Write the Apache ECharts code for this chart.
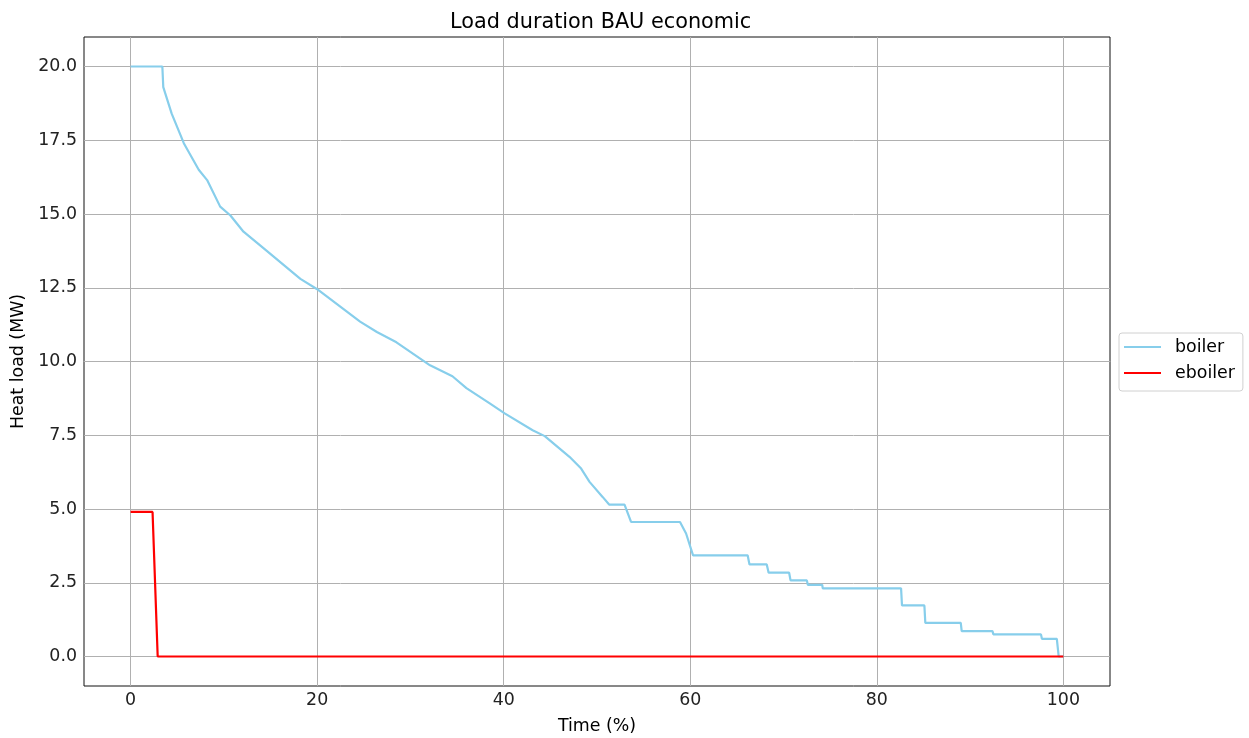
<!DOCTYPE html>
<html>
<head>
<meta charset="utf-8">
<script src="https://cdn.jsdelivr.net/npm/echarts@6/dist/echarts.min.js"></script>
<style>
html,body{margin:0;padding:0;background:#fff;}
#chart{width:1249px;height:738px;}
</style>
</head>
<body>
<div id="chart"></div>
<script>
// boiler load duration curve (time %, MW)
var boilerX=[0,3.4,3.5,4.4,5.7,7.3,8.2,9.6,10.7,12.1,14.4,18.2,20,24.6,26.4,28.5,32.1,34.5,36,38.5,40.1,43.1,44.4,47.05,48.3,49.2,50.6,51.3,52.95,53.65,58.9,59.55,60.3,66.15,66.35,68.2,68.4,70.6,70.75,72.5,72.6,74.15,74.2,82.6,82.7,85.1,85.2,89.0,89.1,92.4,92.5,97.6,97.7,99.3,99.5,100];
var boilerY=[20,20,19.3,18.4,17.4,16.5,16.15,15.25,14.95,14.4,13.8,12.8,12.45,11.35,11.0,10.65,9.87,9.5,9.1,8.58,8.24,7.67,7.47,6.77,6.37,5.92,5.41,5.15,5.15,4.56,4.56,4.17,3.43,3.43,3.12,3.12,2.84,2.84,2.58,2.58,2.43,2.43,2.31,2.31,1.73,1.73,1.14,1.14,0.86,0.86,0.75,0.75,0.6,0.6,0,0];
// eboiler
var eboilerX=[0,2.35,2.9,100];
var eboilerY=[4.9,4.9,0,0];
var xTicks=[0,20,40,60,80,100];
var yTicks=[0,2.5,5,7.5,10,12.5,15,17.5,20];

function pairs(xs,ys){
    var out=[];
    for(var i=0;i<xs.length;i++){
        out.push([xs[i],ys[i]]);
    }
    return out;
}

var myChart=echarts.init(document.getElementById('chart'));
var font='DejaVu Sans';
var fs=17.4;
option={
    animation:false,
    textStyle:{fontFamily:font},
    title:{
        text:'Load duration BAU economic',
        left:445,
        top:7,
        textStyle:{fontFamily:font,fontSize:20.8,fontWeight:'normal',color:'#000'}
    },
    legend:{
        orient:'vertical',
        left:1119,
        top:333,
        padding:[4,8,8,5],
        itemGap:6,
        itemWidth:37,
        itemHeight:2,
        borderColor:'#d0d0d0',
        borderWidth:1,
        borderRadius:3,
        textStyle:{fontFamily:font,fontSize:fs,color:'#000',lineHeight:20,padding:[0,0,0,9]},
        data:[{name:'boiler',icon:'rect'},{name:'eboiler',icon:'rect'}]
    },
    grid:{
        left:84,
        right:139,
        top:37,
        bottom:52,
        outerBoundsMode:'none',
        containLabel:false,
        show:true,
        borderColor:'#111',
        borderWidth:1
    },
    xAxis:{
        type:'value',
        min:-5,
        max:105,
        name:'Time (%)',
        nameLocation:'middle',
        nameGap:32,
        nameTextStyle:{fontFamily:font,fontSize:fs,color:'#000'},
        axisLine:{show:false},
        axisTick:{show:false,customValues:xTicks},
        axisLabel:{customValues:xTicks,fontFamily:font,fontSize:fs,color:'#222',margin:6},
        splitLine:{show:true,lineStyle:{color:'#b0b0b0',width:1}}
    },
    yAxis:{
        type:'value',
        min:-1,
        max:21,
        name:'Heat load (MW)',
        nameLocation:'middle',
        nameGap:49,
        nameTextStyle:{fontFamily:font,fontSize:fs,color:'#000'},
        axisLine:{show:false},
        axisTick:{show:false,customValues:yTicks},
        axisLabel:{
            customValues:yTicks,
            fontFamily:font,fontSize:fs,color:'#222',margin:7,
            formatter:function(v){return v.toFixed(1);}
        },
        splitLine:{show:true,lineStyle:{color:'#b0b0b0',width:1}}
    },
    series:[
        {
            name:'boiler',
            type:'line',
            data:pairs(boilerX,boilerY),
            showSymbol:false,
            symbol:'none',
            itemStyle:{color:'#87ceeb'},
            lineStyle:{color:'#87ceeb',width:2.2}
        },
        {
            name:'eboiler',
            type:'line',
            data:pairs(eboilerX,eboilerY),
            showSymbol:false,
            symbol:'none',
            itemStyle:{color:'#ff0000'},
            lineStyle:{color:'#ff0000',width:2.2}
        }
    ]
};
myChart.setOption(option);
</script>
</body>
</html>
